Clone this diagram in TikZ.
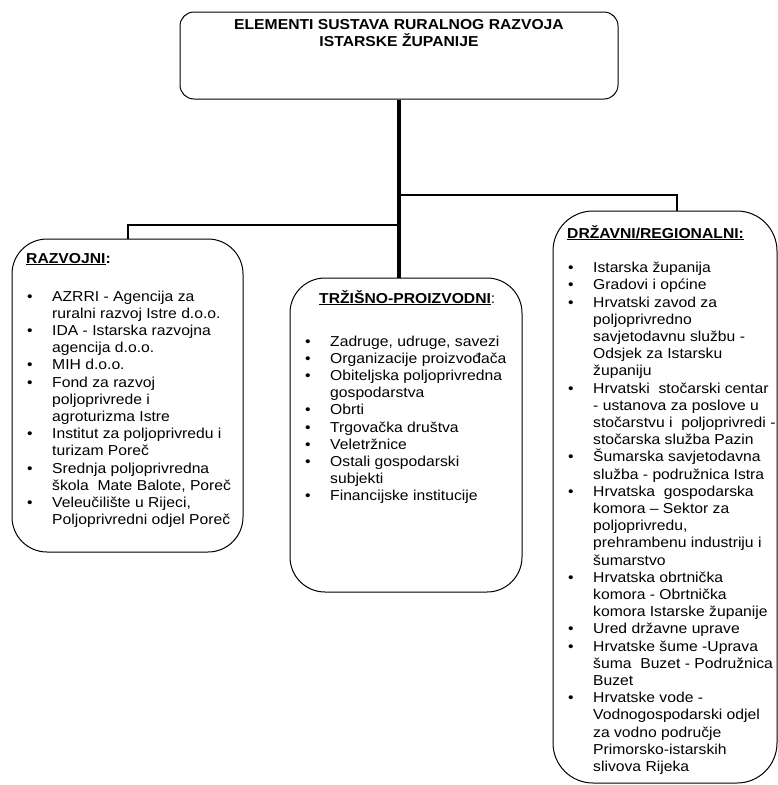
\documentclass[tikz,border=0pt]{standalone}
\usepackage{fontspec}
\setmainfont{Liberation Sans}[FakeStretch=1.09]
\usetikzlibrary{positioning}
\newcommand{\bul}{\makebox[25pt][l]{\textbullet}}
\newcommand{\ind}{\hspace*{25pt}}

\begin{document}
\begin{tikzpicture}[x=1pt,y=-1pt,
    every node/.style={inner sep=0pt,font=\fontsize{14.4}{17.2}\selectfont},
    box/.style={draw,line width=1pt,rounded corners=#1},
    lst/.style={anchor=north west,align=left},
    hdr/.style={anchor=base west,font=\fontsize{14.4}{17.2}\selectfont\bfseries},
    trunk/.style={line width=4pt},
    branch/.style={line width=2pt}]
        \useasboundingbox (0,0) rectangle (778,785);
        \node[box=14pt,minimum width=438pt,minimum height=87pt] (top) at (399,55.5) {};
        \node[below=8pt of top.north,align=center,font=\fontsize{14.4}{17.2}\selectfont\bfseries] (title)
            {ELEMENTI SUSTAVA RURALNOG RAZVOJA\\ISTARSKE ŽUPANIJE};
        \node[box=35pt,minimum width=231pt,minimum height=313pt] (left) at (127.5,395.5) {};
        \node[box=35pt,minimum width=232pt,minimum height=314pt] (mid) at (406,435) {};
        \node[box=40pt,minimum width=224pt,minimum height=572pt] (right) at (665,497) {};
        \coordinate (jr) at (399,195);
        \coordinate (jl) at (399,225);
        \draw[trunk] (top.south) -- (top.south |- mid.north);
        \draw[branch] (jr) -| ([xshift=12pt]right.north);
        \draw[branch] (jl) -| (left.north);
        \node[hdr] (hdrleft) at (26,263) {\underline{RAZVOJNI}:};
        \node[hdr] (hdrmid) at (319,303) {\underline{TRŽIŠNO-PROIZVODNI}\mdseries:};
        \node[hdr] (hdrright) at (567,238) {\underline{DRŽAVNI/REGIONALNI:}};
        \node[lst] (lstleft) at (27,290.5) {\bul AZRRI - Agencija za\\
            \ind ruralni razvoj Istre d.o.o.\\
            \bul IDA - Istarska razvojna\\
            \ind agencija d.o.o.\\
            \bul MIH d.o.o.\\
            \bul Fond za razvoj\\
            \ind poljoprivrede i\\
            \ind agroturizma Istre\\
            \bul Institut za poljoprivredu i\\
            \ind turizam Poreč\\
            \bul Srednja poljoprivredna\\
            \ind škola\ \ Mate Balote, Poreč\\
            \bul Veleučilište u Rijeci,\\
            \ind Poljoprivredni odjel Poreč};
        \node[lst] (lstmid) at (305,335.5) {\bul Zadruge, udruge, savezi\\
            \bul Organizacije proizvođača\\
            \bul Obiteljska poljoprivredna\\
            \ind gospodarstva\\
            \bul Obrti\\
            \bul Trgovačka društva\\
            \bul Veletržnice\\
            \bul Ostali gospodarski\\
            \ind subjekti\\
            \bul Financijske institucije};
        \node[lst] (lstright) at (568,262) {\bul Istarska županija\\
            \bul Gradovi i općine\\
            \bul Hrvatski zavod za\\
            \ind poljoprivredno\\
            \ind savjetodavnu službu -\\
            \ind Odsjek za Istarsku\\
            \ind županiju\\
            \bul Hrvatski\ \ stočarski centar\\
            \ind - ustanova za poslove u\\
            \ind stočarstvu i\ \ poljoprivredi -\\
            \ind stočarska služba Pazin\\
            \bul Šumarska savjetodavna\\
            \ind služba - podružnica Istra\\
            \bul Hrvatska\ \ gospodarska\\
            \ind komora – Sektor za\\
            \ind poljoprivredu,\\
            \ind prehrambenu industriju i\\
            \ind šumarstvo\\
            \bul Hrvatska obrtnička\\
            \ind komora - Obrtnička\\
            \ind komora Istarske županije\\
            \bul Ured državne uprave\\
            \bul Hrvatske šume -Uprava\\
            \ind šuma\ \ Buzet - Podružnica\\
            \ind Buzet\\
            \bul Hrvatske vode -\\
            \ind Vodnogospodarski odjel\\
            \ind za vodno područje\\
            \ind Primorsko-istarskih\\
            \ind slivova Rijeka};
\end{tikzpicture}
\end{document}
